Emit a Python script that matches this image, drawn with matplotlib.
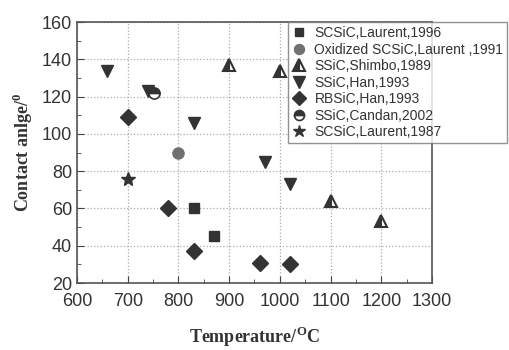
import matplotlib
matplotlib.use('Agg')
import matplotlib.pyplot as plt
from matplotlib.ticker import MultipleLocator

plt.rcParams['font.family'] = ['Liberation Sans', 'DejaVu Sans']

# podaci ocitani sa slike
sq_t = [830, 870]
sq_v = [60, 45]
ox_t = [800]
ox_v = [90]
shimbo_t = [900, 1000, 1100, 1200]
shimbo_v = [137, 134, 64, 53]
han_t = [660, 740, 830, 970, 1020]
han_v = [134, 123, 106, 85, 73]
rb_t = [700, 780, 830, 960, 1020]
rb_v = [109, 60, 37, 31, 30]
candan_t = [752]
candan_v = [122]
l87_t = [700]
l87_v = [76]

labels = ['SCSiC,Laurent,1996', 'Oxidized SCSiC,Laurent ,1991', 'SSiC,Shimbo,1989',
          'SSiC,Han,1993', 'RBSiC,Han,1993', 'SSiC,Candan,2002', 'SCSiC,Laurent,1987']

dark = '#333333'
fig = plt.figure(figsize=(5.09, 3.5), dpi=100)
ax = fig.add_axes([0.1513, 0.1914, 0.6974, 0.7456])

ax.plot(sq_t, sq_v, 's', color=dark, ms=7, ls='none', label=labels[0])
ax.plot(ox_t, ox_v, 'o', color='#707070', ms=8, ls='none', label=labels[1])
ax.plot(shimbo_t, shimbo_v, '^', color=dark, mfc=dark, mfcalt='white', fillstyle='left',
        ms=9, mew=1.5, ls='none', label=labels[2])
ax.plot(han_t, han_v, 'v', color=dark, ms=9, ls='none', label=labels[3])
ax.plot(rb_t, rb_v, 'D', color=dark, ms=8, ls='none', label=labels[4])
ax.plot(candan_t, candan_v, 'o', color=dark, mfc=dark, mfcalt='white', fillstyle='top',
        ms=8, mew=1.2, ls='none', label=labels[5])
ax.plot(l87_t, l87_v, '*', color=dark, ms=10, ls='none', label=labels[6])

ax.set_xlim(600, 1300)
ax.set_ylim(20, 160)
ax.xaxis.set_major_locator(MultipleLocator(100))
ax.xaxis.set_minor_locator(MultipleLocator(50))
ax.yaxis.set_major_locator(MultipleLocator(20))
ax.yaxis.set_minor_locator(MultipleLocator(10))
ax.tick_params(which='both', direction='in', colors='#444444', labelcolor='#333333')
ax.tick_params(which='major', length=5, labelsize=13)
ax.tick_params(which='minor', length=3)
ax.tick_params(axis='x', pad=7)
for s in ax.spines.values():
    s.set_color('#555555')
    s.set_linewidth(1.2)
ax.grid(True, which='major', ls=':', color='#aaaaaa', lw=0.9)

ax.set_xlabel('Temperature/$^\\mathregular{O}$C', family='Liberation Serif',
              fontweight='bold', fontsize=13, color='#333333', labelpad=11)
ax.set_ylabel('Contact anlge/$^\\mathregular{0}$', family='Liberation Serif',
              fontweight='bold', fontsize=13, color='#333333', labelpad=5)

leg = ax.legend(loc='upper left', bbox_to_anchor=(288 / 509, 1 - 22 / 350),
                bbox_transform=fig.transFigure, fontsize=10, frameon=True,
                fancybox=False, edgecolor='#777777', handlelength=1.0,
                handletextpad=0.6, labelspacing=0.18, borderpad=0.3,
                borderaxespad=0, markerscale=0.9)
leg.get_frame().set_linewidth(1.0)
for t in leg.get_texts():
    t.set_color('#333333')

fig.savefig('out.png', dpi=100)
